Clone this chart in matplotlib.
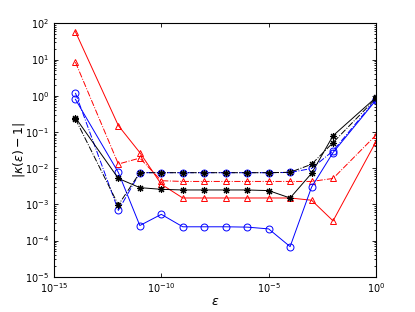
import matplotlib
matplotlib.use("Agg")
import matplotlib.pyplot as plt
from matplotlib.ticker import NullLocator, FixedLocator, NullFormatter

# ── Data ──────────────────────────────────────────────────────────────────────
eps = [1e-14, 1e-12, 1e-11, 1e-10, 1e-9, 1e-8, 1e-7, 1e-6, 1e-5, 1e-4, 1e-3, 1e-2, 1e0]

red_solid   = [59, 0.15, 0.027, 0.0036, 0.0015, 0.0015, 0.0015, 0.0015, 0.0015,
               0.0015, 0.0013, 3.5e-4, 0.054]
red_dash    = [8.5, 0.013, 0.019, 0.0045, 0.0043, 0.0043, 0.0043, 0.0043, 0.0043,
               0.0043, 0.0043, 0.0052, 0.082]
blue_solid  = [0.8, 0.0076, 2.6e-4, 5.3e-4, 2.4e-4, 2.4e-4, 2.4e-4, 2.35e-4, 2.1e-4,
               6.8e-5, 0.003, 0.027, 0.76]
blue_dash   = [1.2, 6.8e-4, 0.0075, 0.0075, 0.0075, 0.0075, 0.0075, 0.0075, 0.0075,
               0.0076, 0.0098, 0.03, 0.8]
black_solid = [0.25, 0.0052, 0.0029, 0.0026, 0.0025, 0.0025, 0.0025, 0.0025, 0.0024,
               0.0015, 0.0072, 0.079, 0.9]
black_dash  = [0.23, 9.6e-4, 0.0075, 0.0075, 0.0075, 0.0075, 0.0075, 0.0075, 0.0075,
               0.0077, 0.0128, 0.051, 0.85]

x_ticks = [1e-15, 1e-10, 1e-5, 1e0]
x_labels = [r"$10^{-15}$", r"$10^{-10}$", r"$10^{-5}$", r"$10^{0}$"]
y_ticks = [1e-5, 1e-4, 1e-3, 1e-2, 1e-1, 1e0, 1e1, 1e2]
y_labels = [r"$10^{-5}$", r"$10^{-4}$", r"$10^{-3}$", r"$10^{-2}$",
            r"$10^{-1}$", r"$10^{0}$", r"$10^{1}$", r"$10^{2}$"]

plt.rcParams["mathtext.fontset"] = "dejavusans"

fig = plt.figure(figsize=(4.15, 3.12), dpi=100)
ax = fig.add_axes([0.130, 0.113, 0.776, 0.812])

lw = 0.7
star = (8, 2, 0)   # asterisk marker like MATLAB '*'
ax.plot(eps, red_solid, "-", color="red", lw=lw, marker="^", ms=5,
        mfc="none", mec="red", mew=0.7)
ax.plot(eps, red_dash, "-.", color="red", lw=lw, marker="^", ms=5,
        mfc="none", mec="red", mew=0.7)
ax.plot(eps, blue_solid, "-", color="blue", lw=lw, marker="o", ms=5,
        mfc="none", mec="blue", mew=0.7)
ax.plot(eps, blue_dash, "-.", color="blue", lw=lw, marker="o", ms=5,
        mfc="none", mec="blue", mew=0.7)
ax.plot(eps, black_solid, "-", color="black", lw=lw, marker=star, ms=5,
        mec="black", mew=0.8)
ax.plot(eps, black_dash, "-.", color="black", lw=lw, marker=star, ms=5,
        mec="black", mew=0.8)

ax.set_xscale("log")
ax.set_yscale("log")
ax.set_xlim(1e-15, 1e0)
ax.set_ylim(1e-5, 1e2)

ax.set_xticks(x_ticks)
ax.set_xticklabels(x_labels)
ax.xaxis.set_minor_locator(NullLocator())
ax.set_yticks(y_ticks)
ax.set_yticklabels(y_labels)
y_minor = [m * 10.0 ** e for e in range(-5, 2) for m in range(2, 10)]
ax.yaxis.set_minor_locator(FixedLocator(y_minor))
ax.yaxis.set_minor_formatter(NullFormatter())

ax.tick_params(which="both", direction="in", top=True, right=True,
               labelsize=7, width=0.6)
ax.tick_params(which="major", length=3)
ax.tick_params(which="minor", length=1.5)
for s in ax.spines.values():
    s.set_linewidth(0.8)

ax.set_xlabel(r"$\epsilon$", fontsize=9, labelpad=0)
ax.set_ylabel(r"$|\kappa(\epsilon)-1|$", fontsize=9)
ax.yaxis.set_label_coords(-0.085, 0.5)

fig.savefig("out.png", dpi=100)
